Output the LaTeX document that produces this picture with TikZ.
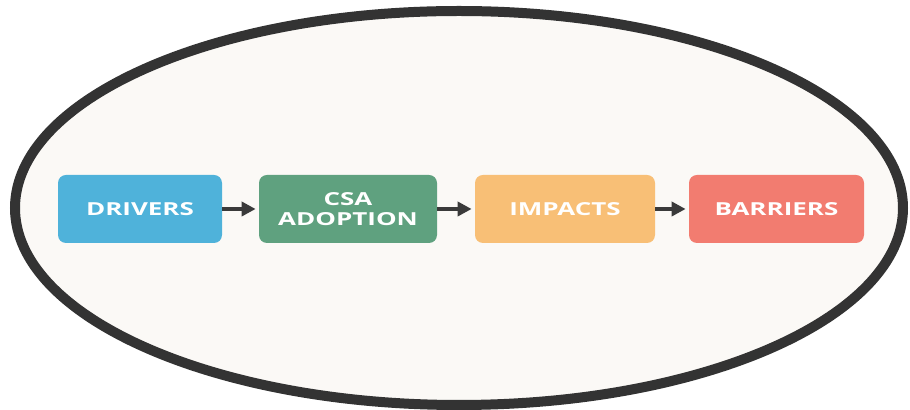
\documentclass[tikz,border=0pt]{standalone}
\usepackage{fontspec}
\newfontfamily\boxfont{Open Sans}[FakeStretch=1.45]
\usepackage{tikz}
\usetikzlibrary{arrows.meta}
\definecolor{ovalfill}{HTML}{FBF9F6}
\definecolor{ovalline}{HTML}{333333}
\definecolor{driverblue}{HTML}{4FB2DA}
\definecolor{csagreen}{HTML}{5FA17F}
\definecolor{impactorange}{HTML}{F8BF76}
\definecolor{barrierred}{HTML}{F27C70}
\definecolor{arrowgrey}{HTML}{3A3A3A}
\tikzset{
    stage/.style={
        rounded corners=0.16cm, minimum height=1.36cm, inner sep=0pt,
        align=center, text=white,
        font=\boxfont\bfseries\fontsize{10.2}{11.8}\selectfont
    },
    flow/.style={
        line width=0.08cm, draw=arrowgrey,
        -{Triangle[length=0.28cm, width=0.28cm]}, shorten >=0.06cm
    },
}

\begin{document}
\begin{tikzpicture}
\useasboundingbox (0,0) rectangle (18.2,8.2);
\fill[white] (0,0) rectangle (18.2,8.2);
\draw[ovalline, fill=ovalfill, line width=0.2cm] (9.18,4.04) ellipse (8.88cm and 3.94cm);

\node[stage, fill=driverblue, minimum width=3.28cm] (drivers) at (2.8,4.02) {DRIVERS};
\node[stage, fill=csagreen, minimum width=3.56cm] (csa) at (6.96,4.02) {CSA\\ADOPTION};
\node[stage, fill=impactorange, minimum width=3.6cm] (impacts) at (11.3,4.02) {IMPACTS};
\node[stage, fill=barrierred, minimum width=3.5cm] (barriers) at (15.53,4.02) {BARRIERS};

\draw[flow] (drivers) -- (csa);
\draw[flow] (csa) -- (impacts);
\draw[flow] (impacts) -- (barriers);
\end{tikzpicture}
\end{document}
